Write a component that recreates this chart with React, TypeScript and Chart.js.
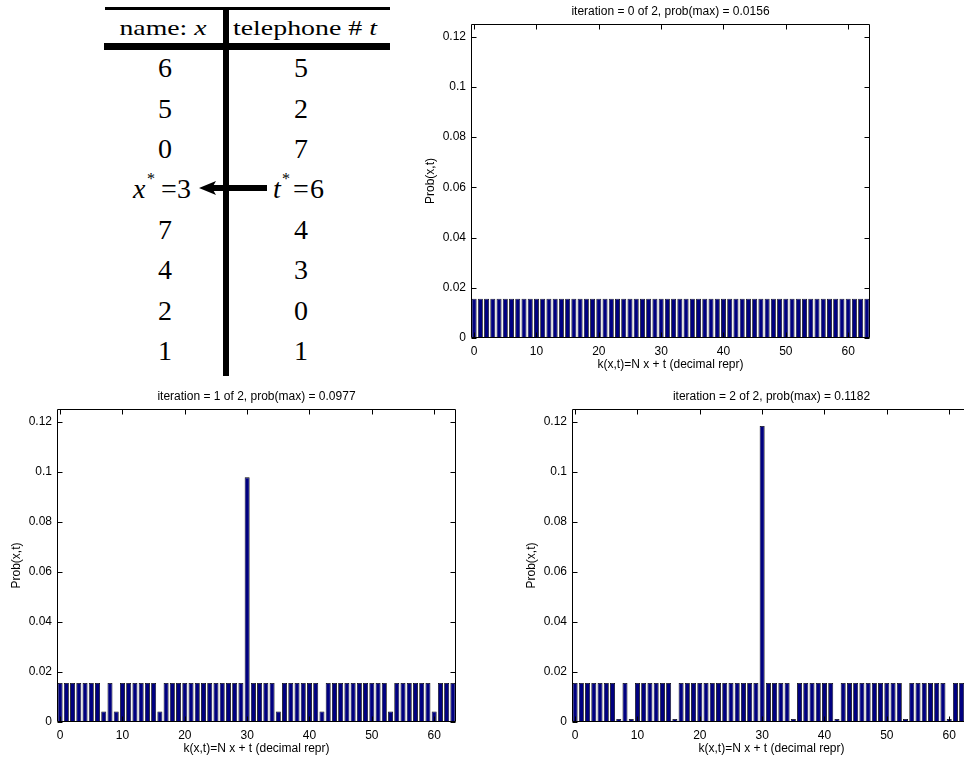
import React, { useEffect, useRef } from 'react';
import { Chart, registerables } from 'chart.js';

Chart.register(...registerables);

// ---------- data ----------
const K_VALUES = [
  0, 1, 2, 3, 4, 5, 6, 7, 8, 9, 10, 11, 12, 13, 14, 15,
  16, 17, 18, 19, 20, 21, 22, 23, 24, 25, 26, 27, 28, 29, 30, 31,
  32, 33, 34, 35, 36, 37, 38, 39, 40, 41, 42, 43, 44, 45, 46, 47,
  48, 49, 50, 51, 52, 53, 54, 55, 56, 57, 58, 59, 60, 61, 62, 63,
];

const PROB_ITER0 = [
  0.0156, 0.0156, 0.0156, 0.0156, 0.0156, 0.0156, 0.0156, 0.0156,
  0.0156, 0.0156, 0.0156, 0.0156, 0.0156, 0.0156, 0.0156, 0.0156,
  0.0156, 0.0156, 0.0156, 0.0156, 0.0156, 0.0156, 0.0156, 0.0156,
  0.0156, 0.0156, 0.0156, 0.0156, 0.0156, 0.0156, 0.0156, 0.0156,
  0.0156, 0.0156, 0.0156, 0.0156, 0.0156, 0.0156, 0.0156, 0.0156,
  0.0156, 0.0156, 0.0156, 0.0156, 0.0156, 0.0156, 0.0156, 0.0156,
  0.0156, 0.0156, 0.0156, 0.0156, 0.0156, 0.0156, 0.0156, 0.0156,
  0.0156, 0.0156, 0.0156, 0.0156, 0.0156, 0.0156, 0.0156, 0.0156,
];

const PROB_ITER1 = [
  0.0156, 0.0156, 0.0156, 0.0156, 0.0156, 0.0156, 0.0156, 0.0042,
  0.0156, 0.0042, 0.0156, 0.0156, 0.0156, 0.0156, 0.0156, 0.0156,
  0.0042, 0.0156, 0.0156, 0.0156, 0.0156, 0.0156, 0.0156, 0.0156,
  0.0156, 0.0156, 0.0156, 0.0156, 0.0156, 0.0156, 0.0977, 0.0156,
  0.0156, 0.0156, 0.0156, 0.0042, 0.0156, 0.0156, 0.0156, 0.0156,
  0.0156, 0.0156, 0.0042, 0.0156, 0.0156, 0.0156, 0.0156, 0.0156,
  0.0156, 0.0156, 0.0156, 0.0156, 0.0156, 0.0042, 0.0156, 0.0156,
  0.0156, 0.0156, 0.0156, 0.0156, 0.0042, 0.0156, 0.0156, 0.0156,
];

const PROB_ITER2 = [
  0.0156, 0.0156, 0.0156, 0.0156, 0.0156, 0.0156, 0.0156, 0.0012,
  0.0156, 0.0012, 0.0156, 0.0156, 0.0156, 0.0156, 0.0156, 0.0156,
  0.0012, 0.0156, 0.0156, 0.0156, 0.0156, 0.0156, 0.0156, 0.0156,
  0.0156, 0.0156, 0.0156, 0.0156, 0.0156, 0.0156, 0.1182, 0.0156,
  0.0156, 0.0156, 0.0156, 0.0012, 0.0156, 0.0156, 0.0156, 0.0156,
  0.0156, 0.0156, 0.0012, 0.0156, 0.0156, 0.0156, 0.0156, 0.0156,
  0.0156, 0.0156, 0.0156, 0.0156, 0.0156, 0.0012, 0.0156, 0.0156,
  0.0156, 0.0156, 0.0156, 0.0156, 0.0012, 0.0156, 0.0156, 0.0156,
];

const X_TICKS = [0, 10, 20, 30, 40, 50, 60];
const Y_TICKS = [0, 0.02, 0.04, 0.06, 0.08, 0.1, 0.12];

const TITLE_ITER0 = 'iteration = 0 of 2, prob(max) = 0.0156';
const TITLE_ITER1 = 'iteration = 1 of 2, prob(max) = 0.0977';
const TITLE_ITER2 = 'iteration = 2 of 2, prob(max) = 0.1182';
const X_LABEL = 'k(x,t)=N x + t (decimal repr)';
const Y_LABEL = 'Prob(x,t)';

const NAMES_X = ['6', '5', '0', '3', '7', '4', '2', '1'];
const PHONES_T = ['5', '2', '7', '6', '4', '3', '0', '1'];
const MARKED_ROW = 3;

// ---------- styling ----------
const FONT = "'Liberation Sans', Arial, sans-serif";
const SERIF = "'Liberation Serif', 'Times New Roman', serif";
const AX_FONT = { family: FONT, size: 12, weight: 'normal' as const, lineHeight: 1.2 };
const MARGIN_L = 60;
const MARGIN_T = 24;
const MARGIN_B = 40;

const boxPlugin = {
  id: 'matlabBox',
  afterDraw(chart: any) {
    const { ctx, chartArea } = chart;
    const xs = chart.scales.x;
    const ys = chart.scales.y;
    const l = Math.round(chartArea.left) + 0.5;
    const r = Math.round(chartArea.right) - 0.5;
    const t = Math.round(chartArea.top) + 0.5;
    const b = Math.round(chartArea.bottom) - 0.5;
    const len = 5;
    ctx.save();
    ctx.strokeStyle = '#000';
    ctx.lineWidth = 1;
    ctx.beginPath();
    ctx.rect(l, t, r - l, b - t);
    xs.ticks.forEach((tk: any) => {
      const px = Math.round(xs.getPixelForValue(tk.value)) + 0.5;
      ctx.moveTo(px, b);
      ctx.lineTo(px, b - len);
      ctx.moveTo(px, t);
      ctx.lineTo(px, t + len);
    });
    ys.ticks.forEach((tk: any) => {
      const py = Math.round(ys.getPixelForValue(tk.value)) + 0.5;
      ctx.moveTo(l, py);
      ctx.lineTo(l + len, py);
      ctx.moveTo(r, py);
      ctx.lineTo(r - len, py);
    });
    ctx.stroke();
    ctx.restore();
  },
};

type PanelProps = {
  left: number;
  top: number;
  plotW: number;
  plotH: number;
  title: string;
  values: number[];
};

function BarPanel({ left, top, plotW, plotH, title, values }: PanelProps) {
  const ref = useRef<HTMLCanvasElement>(null);
  const w = plotW + MARGIN_L * 2;
  const h = plotH + MARGIN_T + MARGIN_B;

  useEffect(() => {
    if (!ref.current) return;
    const chart = new Chart(ref.current, {
      type: 'bar',
      data: {
        datasets: [
          {
            data: values.map((v, i) => ({ x: K_VALUES[i], y: v })),
            backgroundColor: '#000080',
            borderColor: '#000000',
            borderWidth: 0.8,
            borderSkipped: false,
            barPercentage: 0.8,
            categoryPercentage: 1,
          },
        ],
      },
      options: {
        animation: false,
        responsive: false,
        devicePixelRatio: 1,
        layout: { padding: 0 },
        plugins: {
          legend: { display: false },
          tooltip: { enabled: false },
          title: {
            display: true,
            text: title,
            color: '#000',
            font: AX_FONT,
            padding: { top: 4, bottom: 5.6 },
          },
        },
        scales: {
          x: {
            type: 'linear',
            min: -0.5,
            max: 63.5,
            offset: false,
            afterBuildTicks: (s: any) => {
              s.ticks = X_TICKS.map((v) => ({ value: v }));
            },
            afterFit: (s: any) => {
              s.height = MARGIN_B;
            },
            grid: { display: false, drawTicks: false },
            border: { display: false },
            ticks: {
              color: '#000',
              font: AX_FONT,
              padding: 6,
              maxRotation: 0,
              autoSkip: false,
              callback: (v: any) => String(v),
            },
            title: {
              display: true,
              text: X_LABEL,
              color: '#000',
              font: AX_FONT,
              padding: { top: 0, bottom: 6 },
            },
          },
          y: {
            type: 'linear',
            min: 0,
            max: 0.125,
            afterBuildTicks: (s: any) => {
              s.ticks = Y_TICKS.map((v) => ({ value: v }));
            },
            afterFit: (s: any) => {
              s.width = MARGIN_L;
            },
            grid: { display: false, drawTicks: false },
            border: { display: false },
            ticks: {
              color: '#000',
              font: AX_FONT,
              padding: 5,
              autoSkip: false,
              callback: (v: any) => String(Number(Number(v).toFixed(2))),
            },
            title: {
              display: true,
              text: Y_LABEL,
              color: '#000',
              font: AX_FONT,
              padding: { top: 12, bottom: 0 },
            },
          },
          yRight: {
            type: 'linear',
            position: 'right',
            min: 0,
            max: 0.125,
            afterFit: (s: any) => {
              s.width = MARGIN_L;
            },
            grid: { display: false, drawTicks: false },
            border: { display: false },
            ticks: { display: false },
          },
        },
      } as any,
      plugins: [boxPlugin],
    });
    return () => chart.destroy();
  }, []);

  return (
    <canvas
      ref={ref}
      width={w}
      height={h}
      style={{ position: 'absolute', left: left - MARGIN_L, top: top - MARGIN_T, width: w, height: h }}
    />
  );
}

function PhoneTable() {
  const rowBase = [77, 117.5, 158, 198, 239, 279, 320, 360];
  return (
    <svg width={420} height={385} style={{ position: 'absolute', left: 0, top: 0 }}>
      <rect x={105} y={7} width={285} height={3} fill="#000" />
      <rect x={104} y={43} width={286} height={7} fill="#000" />
      <rect x={223} y={7} width={6} height={369} fill="#000" />
      <text x={163} y={35} textAnchor="middle" fontFamily={SERIF} fontSize={22} textLength={87} lengthAdjust="spacingAndGlyphs">
        name: <tspan fontStyle="italic">x</tspan>
      </text>
      <text x={305} y={35} textAnchor="middle" fontFamily={SERIF} fontSize={22} textLength={144} lengthAdjust="spacingAndGlyphs">
        telephone # <tspan fontStyle="italic">t</tspan>
      </text>
      {NAMES_X.map((n, i) =>
        i === MARKED_ROW ? null : (
          <text key={'n' + i} x={165} y={rowBase[i]} textAnchor="middle" fontFamily={SERIF} fontSize={28}>
            {n}
          </text>
        )
      )}
      {PHONES_T.map((p, i) =>
        i === MARKED_ROW ? null : (
          <text key={'p' + i} x={301} y={rowBase[i]} textAnchor="middle" fontFamily={SERIF} fontSize={28}>
            {p}
          </text>
        )
      )}
      {/* marked row */}
      <text x={133} y={rowBase[MARKED_ROW]} fontFamily={SERIF} fontSize={28} fontStyle="italic">x</text>
      <text x={147} y={rowBase[MARKED_ROW] - 14} fontFamily={SERIF} fontSize={16} fill="#000">*</text>
      <text x={161} y={rowBase[MARKED_ROW]} fontFamily={SERIF} fontSize={28}>=</text>
      <text x={177} y={rowBase[MARKED_ROW]} fontFamily={SERIF} fontSize={28}>{NAMES_X[MARKED_ROW]}</text>
      <text x={273} y={rowBase[MARKED_ROW]} fontFamily={SERIF} fontSize={28} fontStyle="italic">t</text>
      <text x={282} y={rowBase[MARKED_ROW] - 14} fontFamily={SERIF} fontSize={16} fill="#000">*</text>
      <text x={293} y={rowBase[MARKED_ROW]} fontFamily={SERIF} fontSize={28}>=</text>
      <text x={310} y={rowBase[MARKED_ROW]} fontFamily={SERIF} fontSize={28}>{PHONES_T[MARKED_ROW]}</text>
      {/* arrow */}
      <rect x={211} y={185} width={56} height={6} fill="#000" />
      <polygon points="199,188 216,181 212,188 216,195" fill="#000" />
    </svg>
  );
}

export default function App() {
  return (
    <div
      style={{
        position: 'fixed',
        left: 0,
        top: 0,
        width: 964,
        height: 758,
        overflow: 'hidden',
        background: '#fff',
      }}
    >
      <PhoneTable />
      <BarPanel left={471} top={24} plotW={399} plotH={314} title={TITLE_ITER0} values={PROB_ITER0} />
      <BarPanel left={57} top={409} plotW={399} plotH={313} title={TITLE_ITER1} values={PROB_ITER1} />
      <BarPanel left={572} top={409} plotW={399} plotH={313} title={TITLE_ITER2} values={PROB_ITER2} />
    </div>
  );
}
